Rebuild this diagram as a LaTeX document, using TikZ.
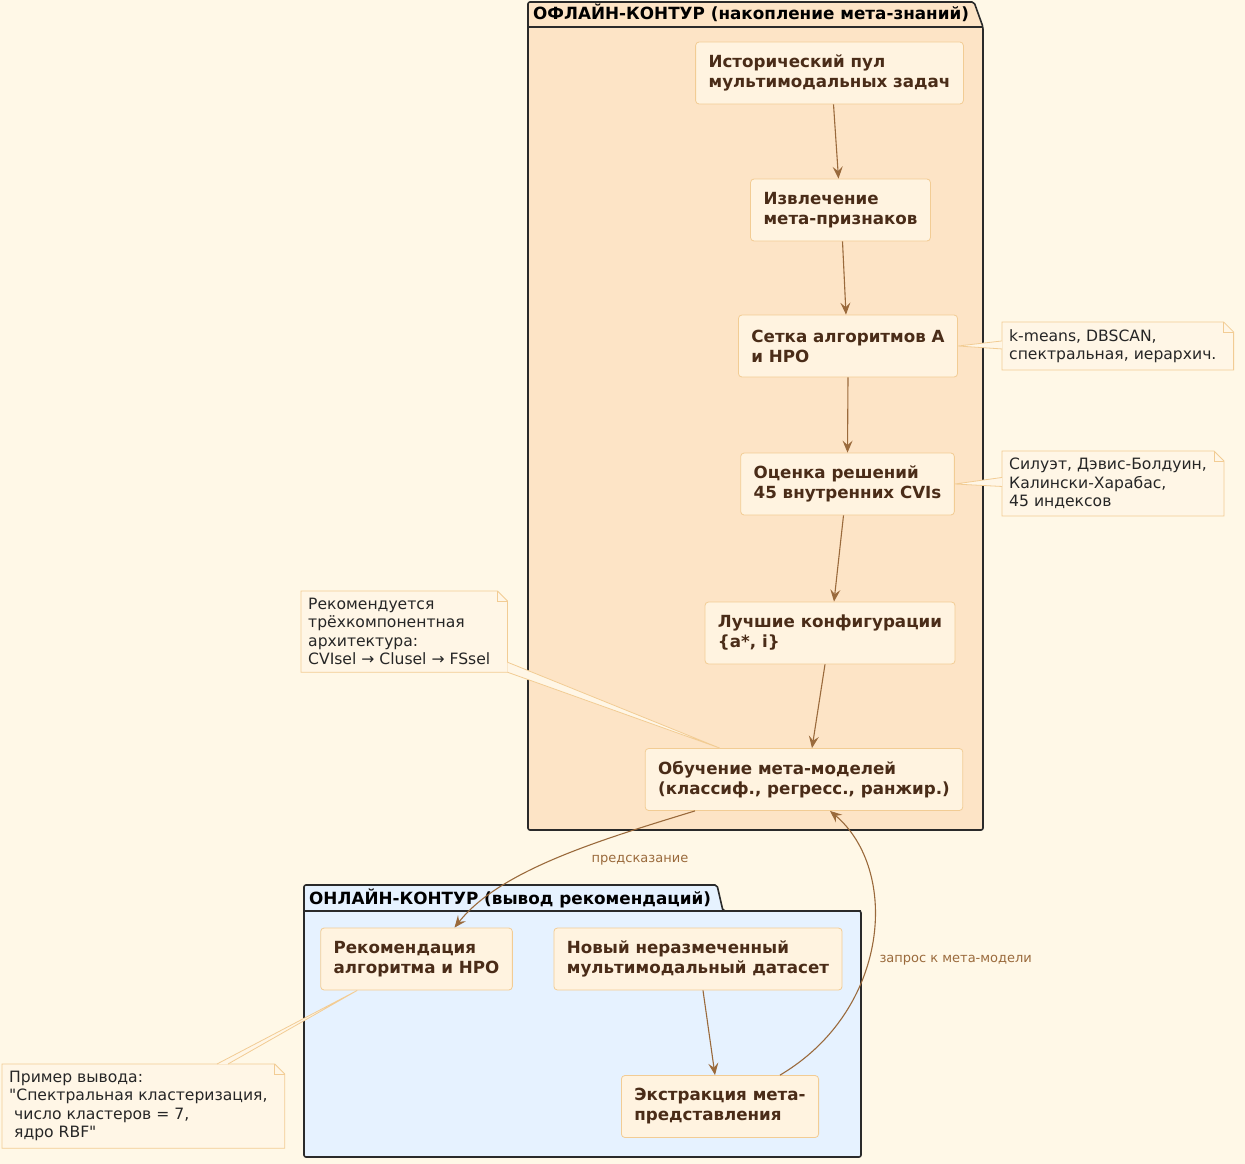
\documentclass[tikz,border=0pt]{standalone}
\usepackage{fontspec}
\setmainfont{DejaVu Sans}[Ligatures=TeXOff]
\usetikzlibrary{arrows.meta,calc}
\definecolor{bgcol}{HTML}{FFF8E7}
\definecolor{offfill}{HTML}{FDE4C6}
\definecolor{onfill}{HTML}{E6F2FF}
\definecolor{nodefill}{HTML}{FFF3E0}
\definecolor{nodeline}{HTML}{F2CC94}
\definecolor{notefill}{HTML}{FFF6E6}
\definecolor{ink}{HTML}{4A2C18}
\definecolor{arrowcol}{HTML}{9A6A3C}
\definecolor{pkgline}{HTML}{2A2A2A}
% note with a folded corner: name, top left corner, text
\newcommand\foldnote[3]{%
  \path (#2) node[notetext,text opacity=0] (#1) {#3};
  \coordinate (#1-ne) at ([xshift=10pt]#1.north east);
  \coordinate (#1-se) at ([xshift=10pt]#1.south east);
  \draw[draw=nodeline,fill=notefill,line width=0.8pt]
    (#1.north west) -- ([xshift=-10pt]#1-ne) -- ([yshift=-10pt]#1-ne)
    -- (#1-se) -- (#1.south west) -- cycle;
  \draw[draw=nodeline,line width=0.8pt]
    ([xshift=-10pt]#1-ne) -- ([xshift=-10pt,yshift=-10pt]#1-ne)
    -- ([yshift=-10pt]#1-ne);
  \node[notetext] at (#1.north west) {#3};}
\begin{document}
\begin{tikzpicture}[x=1pt,y=-1pt,
  stepbox/.style={draw=nodeline,fill=nodefill,rounded corners=3.5pt,line width=0.8pt,
    align=left,inner xsep=13pt,minimum height=62pt,text=ink,
    font=\fontsize{16.7}{20}\selectfont\bfseries},
  notetext/.style={anchor=north west,align=left,inner xsep=7pt,inner ysep=7pt,
    font=\fontsize{15.6}{18.4}\selectfont,text=black!85},
  flow/.style={draw=arrowcol,line width=1.1pt,-{Stealth[length=12pt,width=10pt,inset=4.5pt]}},
  wedge/.style={draw=nodeline,line width=0.8pt},
  pkg/.style={draw=pkgline,line width=1.6pt,rounded corners=2pt},
  pkgtitle/.style={anchor=west,inner sep=0pt,font=\fontsize{16.8}{20}\selectfont\bfseries},
  edgelabel/.style={text=arrowcol,font=\fontsize{13}{16}\selectfont}]
  \useasboundingbox[fill=bgcol] (0,0) rectangle (1245,1164);

  % offline package
  \draw[pkg,fill=offfill] (528,2) -- (974,2) -- (983,27) -- (983,830) -- (528,830) -- cycle;
  \draw[pkg] (528,27) -- (983,27);
  \node[pkgtitle] (offtitle) at (533,13) {ОФЛАЙН-КОНТУР (накопление мета-знаний)};

  % online package
  \draw[pkg,fill=onfill] (304,885) -- (717,885) -- (723,911) -- (861,911) -- (861,1157) -- (304,1157) -- cycle;
  \draw[pkg] (304,911) -- (861,911);
  \node[pkgtitle] (ontitle) at (309,898) {ОНЛАЙН-КОНТУР (вывод рекомендаций)};

  \node[stepbox] (hist) at (829.5,73) {Исторический пул\\мультимодальных задач};
  \node[stepbox] (feat) at (840.5,210) {Извлечение\\мета-признаков};
  \node[stepbox] (grid) at (848,346) {Сетка алгоритмов A\\и HPO};
  \node[stepbox] (eval) at (847.5,484) {Оценка решений\\45 внутренних CVIs};
  \node[stepbox] (best) at (830,633) {Лучшие конфигурации\\\{a*, i\}};
  \node[stepbox] (train) at (804,779.5) {Обучение мета-моделей\\(классиф., регресс., ранжир.)};
  \node[stepbox] (rec) at (416.5,959) {Рекомендация\\алгоритма и HPO};
  \node[stepbox] (newds) at (698,959) {Новый неразмеченный\\мультимодальный датасет};
  \node[stepbox] (metarep) at (720,1106.5) {Экстракция мета-\\представления};

  \draw[flow] ($(hist.south)+(4,0)$) -- ($(feat.north)+(-2,0)$);
  \draw[flow] ($(feat.south)+(2,0)$) -- ($(grid.north)+(-2,0)$);
  \draw[flow] (grid.south) -- (eval.north);
  \draw[flow] ($(eval.south)+(-4,0)$) -- ($(best.north)+(4,0)$);
  \draw[flow] ($(best.south)+(-5,0)$) -- ($(train.north)+(8,0)$);
  \draw[flow] ($(newds.south)+(5,0)$) -- ($(metarep.north)+(-5,0)$);
  \draw[flow] ($(train.south)+(-109,0)$) .. controls (600,840) and (500,870) .. ($(rec.north)+(38,0)$);
  \draw[flow] ($(metarep.north)+(60,0)$) .. controls (890,1010) and (900,870) .. ($(train.south)+(26,0)$);
  \node[edgelabel] (lblpred) at (640,860) {предсказание};
  \node[edgelabel,anchor=west] (lblreq) at (876,960) {запрос к мета-модели};

  % notes
  \foldnote{ngrid}{1002,322}{k-means, DBSCAN,\\спектральная, иерархич.}
  \fill[notefill] (grid.east) -- ($(ngrid.west)+(0,-5)$) -- ($(ngrid.west)+(0,3)$) -- cycle;
  \draw[wedge] ($(ngrid.west)+(0,-5)$) -- (grid.east) -- ($(ngrid.west)+(0,3)$);

  \foldnote{neval}{1002,451}{Силуэт, Дэвис-Болдуин,\\Калински-Харабас,\\45 индексов}
  \fill[notefill] (eval.east) -- ($(neval.west)+(0,-6)$) -- ($(neval.west)+(0,3)$) -- cycle;
  \draw[wedge] ($(neval.west)+(0,-6)$) -- (eval.east) -- ($(neval.west)+(0,3)$);

  \foldnote{narch}{301,591}{Рекомендуется\\трёхкомпонентная\\архитектура:\\CVIsel → Clusel → FSsel}
  \fill[notefill] ($(train.north west)+(75,0)$) -- ($(narch-se)+(0,-10)$) -- (narch-se) -- cycle;
  \draw[wedge] ($(narch-se)+(0,-10)$) -- ($(train.north west)+(75,0)$) -- (narch-se);

  \foldnote{nout}{2,1064}{Пример вывода:\\"Спектральная кластеризация,\\\ число кластеров = 7,\\\ ядро RBF"}
  \fill[notefill] ($(rec.south west)+(37,0)$) -- ($(nout.north west)+(215,0)$) -- ($(nout.north west)+(226,0)$) -- cycle;
  \draw[wedge] ($(nout.north west)+(215,0)$) -- ($(rec.south west)+(37,0)$) -- ($(nout.north west)+(226,0)$);
\end{tikzpicture}
\end{document}
